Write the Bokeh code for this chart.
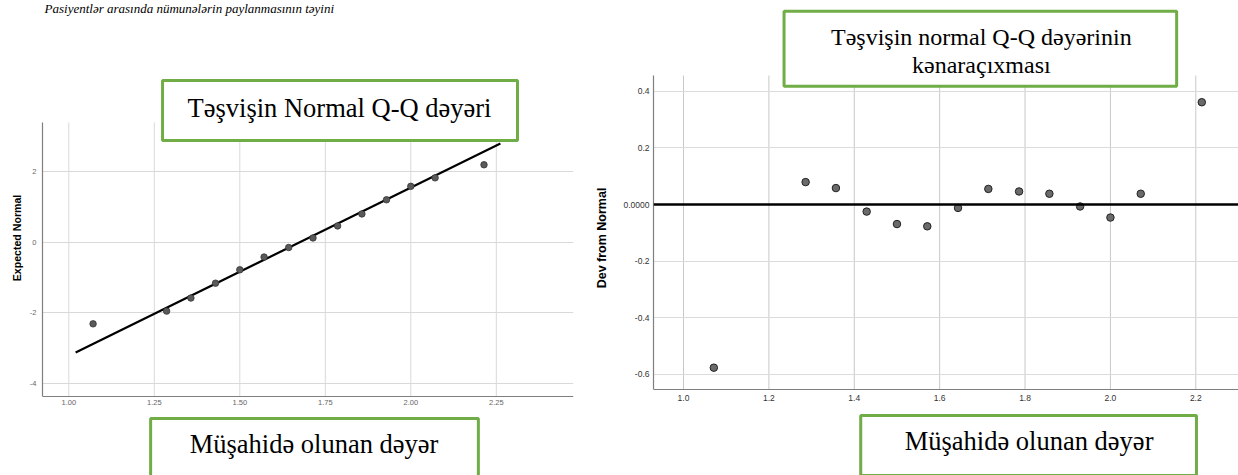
from bokeh.plotting import figure
from bokeh.layouts import row
from bokeh.models import FixedTicker, Label, Span, PrintfTickFormatter
from bokeh.embed import file_html
from bokeh.resources import INLINE

# ---- data ----
observed = [1.071, 1.286, 1.357, 1.429, 1.500, 1.571, 1.643, 1.714, 1.786, 1.857, 1.929, 2.000, 2.071, 2.214]
expected_normal = [-2.31, -1.95, -1.58, -1.16, -0.78, -0.42, -0.15, 0.12, 0.46, 0.80, 1.20, 1.58, 1.82, 2.19]
dev_from_normal = [-0.576, 0.079, 0.058, -0.025, -0.069, -0.077, -0.012, 0.055, 0.046, 0.038, -0.007, -0.046, 0.038, 0.361]
line_x = [1.02, 2.262]
line_y = [-3.12, 2.79]

left_xticks = [1.00, 1.25, 1.50, 1.75, 2.00, 2.25]
left_yticks = [-4, -2, 0, 2]
right_xticks = [1.0, 1.2, 1.4, 1.6, 1.8, 2.0, 2.2]
right_yticks = [-0.6, -0.4, -0.2, 0.0, 0.2, 0.4]

page_caption = "Pasiyentlər arasında nümunələrin paylanmasının təyini"
left_title = "Təşvişin Normal Q-Q dəyəri"
right_title = "Təşvişin normal Q-Q dəyərinin\nkənaraçıxması"
x_caption = "Müşahidə olunan dəyər"
left_ylabel = "Expected Normal"
right_ylabel = "Dev from Normal"

# visible extent of each chart's axes (data units)
left_x_extent = (0.9231, 2.4757)
left_y_extent = (-4.365, 3.386)
right_x_extent = (0.9297, 2.300)
right_y_extent = (-0.654, 0.4553)

GREEN = "#70AD47"
SANS = "Liberation Sans"
SERIF = "Liberation Serif"


def style_axes(p, tick_size, tick_color, label_size, x_standoff, y_standoff, label_standoff):
    p.outline_line_color = None
    for ax in (p.xaxis[0], p.yaxis[0]):
        ax.major_tick_out = 0
        ax.major_tick_in = 0
        ax.minor_tick_out = 0
        ax.minor_tick_in = 0
        ax.axis_line_color = "#7f7f7f"
        ax.axis_line_width = 1.2
        ax.major_label_text_font = SANS
        ax.major_label_text_font_size = tick_size
        ax.major_label_text_color = tick_color
        ax.axis_label_text_font = SANS
        ax.axis_label_text_font_size = label_size
        ax.axis_label_text_font_style = "bold"
        ax.axis_label_text_color = "#000000"
    p.xaxis[0].major_label_standoff = x_standoff
    p.yaxis[0].major_label_standoff = y_standoff
    p.yaxis[0].axis_label_standoff = label_standoff


def box_label(x, y, text, size, padding, line_height=1.2):
    # padding order: (left, right, top, bottom); y is the top edge of the box
    return Label(x=x, y=y, text=text, text_font=SERIF, text_font_size=size,
                 text_align="center", text_baseline="top", text_color="black",
                 text_line_height=line_height,
                 border_line_color=GREEN, border_line_width=3,
                 background_fill_color="white", background_fill_alpha=1.0,
                 padding=padding)


def vgrid(p, ticks, extent, color):
    p.segment(x0=ticks, x1=ticks, y0=[extent[0]] * len(ticks), y1=[extent[1]] * len(ticks),
              line_color=color, line_width=1, level="underlay")


# ---------------- left: Normal Q-Q ----------------
pl = figure(width=590, height=475, output_backend="svg", toolbar_location=None,
            x_range=left_x_extent, y_range=(-6.600, 6.837),
            min_border_left=42, min_border_right=17, min_border_top=0, min_border_bottom=0,
            background_fill_color="white", border_fill_color="white")
style_axes(pl, "7.5px", "#666666", "10.6px", 4, 6, 4)
pl.yaxis[0].axis_label = left_ylabel
pl.yaxis[0].bounds = left_y_extent
pl.xaxis[0].fixed_location = left_y_extent[0]
pl.xaxis[0].ticker = FixedTicker(ticks=left_xticks)
pl.yaxis[0].ticker = FixedTicker(ticks=left_yticks)
pl.xaxis[0].formatter = PrintfTickFormatter(format="%.2f")
pl.yaxis[0].formatter = PrintfTickFormatter(format="%d")
pl.xgrid.visible = False
pl.ygrid.grid_line_color = "#d9d9d9"
pl.ygrid.ticker = FixedTicker(ticks=left_yticks)
vgrid(pl, left_xticks, left_y_extent, "#d9d9d9")

pl.line(line_x, line_y, line_color="black", line_width=2.2)
pl.scatter(observed, expected_normal, size=6.5, fill_color="#5a5a5a", line_color="#333333", line_width=0.8)

pl.add_layout(box_label(1.793, 4.574, left_title, "26.5px", (25, 26, 13, 17)))
pl.add_layout(box_label(1.7184, -4.987, x_caption, "26.5px", (39, 40, 11, 40)))
# caption of the source page, at the very top
pl.add_layout(Label(x=0.929, y=6.809, text=page_caption, text_font=SERIF, text_font_size="13px",
                    text_font_style="italic", text_align="left", text_baseline="top",
                    text_color="black"))

# ---------------- right: Detrended ----------------
pr = figure(width=648, height=475, output_backend="svg", toolbar_location=None,
            x_range=right_x_extent, y_range=(-0.9566, 0.7201),
            min_border_left=63, min_border_right=0, min_border_top=0, min_border_bottom=0,
            background_fill_color="white", border_fill_color="white")
style_axes(pr, "8.5px", "#333333", "12.5px", 5, 4, 12)
pr.yaxis[0].axis_label = right_ylabel
pr.yaxis[0].bounds = right_y_extent
pr.xaxis[0].fixed_location = right_y_extent[0]
pr.xaxis[0].ticker = FixedTicker(ticks=right_xticks)
pr.yaxis[0].ticker = FixedTicker(ticks=right_yticks)
pr.xaxis[0].formatter = PrintfTickFormatter(format="%.1f")
pr.yaxis[0].formatter = PrintfTickFormatter(format="%.1f")
pr.yaxis[0].major_label_overrides = {0: "0.0000"}
pr.xgrid.visible = False
pr.ygrid.grid_line_color = "#dcdcdc"
pr.ygrid.ticker = FixedTicker(ticks=right_yticks)
vgrid(pr, right_xticks, right_y_extent, "#c8c8c8")

pr.add_layout(Span(location=0, dimension="width", line_color="black", line_width=2.5))
pr.scatter(observed, dev_from_normal, size=7.5, fill_color="#6a6a6a", line_color="#222222", line_width=1)

pr.add_layout(box_label(1.6953, 0.6823, right_title, "24px", (47, 45, 13, 8), line_height=1.08))
pr.add_layout(box_label(1.8083, -0.7448, x_caption, "26.5px", (44, 43, 11, 19)))

layout = row(pl, pr)
open("out.html", "w").write(file_html(layout, INLINE))
